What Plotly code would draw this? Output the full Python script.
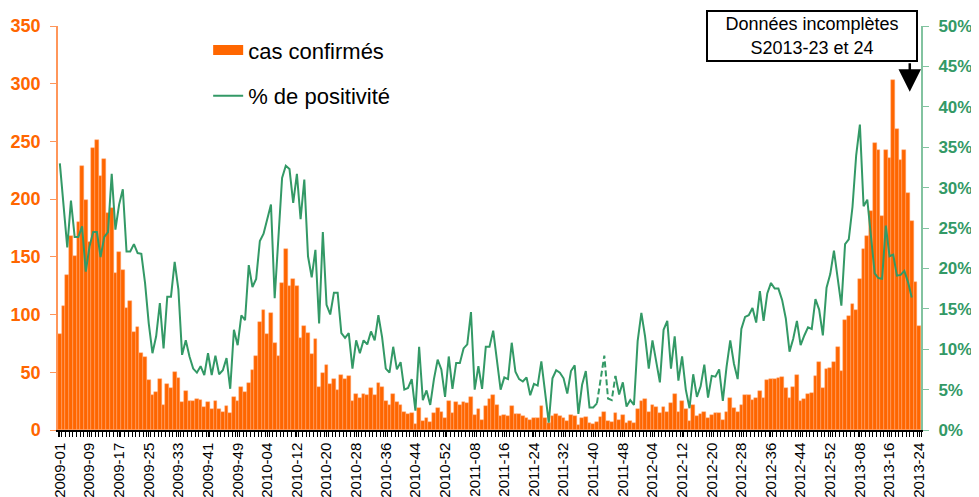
import plotly.graph_objects as go

# ---------------- DATA ----------------
weeks_per_year = {2009: 53, 2010: 52, 2011: 52, 2012: 52, 2013: 24}
week_labels = [f"{y}-{w:02d}" for y, n in weeks_per_year.items() for w in range(1, n + 1)]

cas_confirmes = [
    83, 107, 134, 168, 151, 180, 229, 199, 163, 244, 251, 220, 235, 188, 192, 136, 154, 139, 106, 112,
    85, 89, 67, 63, 43, 30, 33, 44, 22, 40, 36, 50, 45, 24, 34, 25, 25, 27, 26, 20,
    24, 18, 25, 18, 16, 21, 15, 29, 25, 37, 33, 41, 52, 64, 94, 104, 83, 101, 75, 64,
    127, 157, 125, 131, 125, 80, 90, 84, 66, 79, 37, 49, 56, 40, 44, 35, 48, 44, 47, 25,
    31, 28, 31, 30, 36, 30, 41, 37, 25, 22, 31, 24, 22, 16, 14, 15, 5, 19, 8, 10,
    7, 15, 19, 16, 10, 25, 15, 24, 22, 24, 23, 29, 13, 18, 9, 21, 27, 30, 22, 12,
    13, 12, 21, 14, 14, 12, 10, 9, 10, 10, 21, 10, 6, 12, 14, 12, 10, 8, 13, 12,
    4, 10, 11, 6, 5, 7, 11, 16, 8, 7, 15, 9, 13, 6, 8, 6, 18, 25, 27, 16,
    22, 20, 15, 20, 16, 23, 31, 16, 25, 18, 8, 22, 12, 14, 16, 10, 13, 15, 15, 9,
    16, 28, 19, 16, 22, 30, 30, 26, 28, 34, 28, 43, 44, 44, 45, 46, 36, 28, 37, 48,
    25, 27, 31, 32, 47, 59, 36, 53, 54, 59, 72, 51, 95, 99, 109, 104, 131, 157, 168, 190,
    249, 243, 185, 243, 236, 303, 261, 234, 243, 205, 181, 128, 90,
]

pct_positivite = [
    33.0, 27.5, 22.6, 28.4, 23.9, 23.9, 25.2, 19.6, 22.7, 24.5, 24.5, 21.4, 23.9, 24.5, 31.7, 24.8, 27.9, 29.8, 22.1, 22.1,
    23.0, 21.9, 21.8, 18.2, 13.2, 9.5, 11.6, 15.7, 10.1, 16.5, 16.5, 20.8, 17.4, 9.3, 11.1, 9.1, 7.6, 7.1, 7.9, 6.8,
    9.5, 6.8, 9.2, 6.9, 7.4, 8.9, 5.1, 12.4, 10.5, 14.2, 13.6, 20.4, 17.7, 18.7, 23.4, 24.3, 26.0, 27.9, 16.3, 24.0,
    31.2, 32.7, 32.3, 28.1, 31.7, 26.1, 31.0, 21.5, 18.9, 22.3, 13.2, 24.5, 15.5, 14.3, 17.0, 17.0, 12.0, 11.4, 12.0, 7.6,
    11.1, 9.5, 11.1, 10.6, 12.2, 11.1, 14.2, 11.5, 7.6, 7.1, 10.3, 7.5, 8.4, 5.0, 5.2, 6.3, 2.4, 10.3, 3.7, 4.9,
    3.1, 6.3, 8.7, 7.5, 4.1, 9.1, 5.1, 8.3, 8.3, 10.1, 10.6, 14.6, 5.0, 7.9, 5.1, 10.3, 10.3, 12.3, 8.7, 5.0,
    6.5, 6.3, 10.8, 7.2, 6.3, 6.0, 6.5, 4.3, 5.7, 5.5, 8.5, 4.3, 0.9, 6.4, 7.4, 7.1, 6.4, 4.5, 7.3, 8.0,
    2.0, 5.6, 7.3, 2.8, 2.8, 3.3, 6.2, 9.2, 3.9, 3.7, 6.7, 4.4, 5.9, 2.9, 3.7, 3.1, 11.0, 14.5, 11.6, 7.6,
    11.1, 8.5, 5.9, 12.4, 13.5, 7.6, 11.6, 6.1, 9.1, 5.0, 2.7, 6.9, 4.1, 5.4, 8.1, 4.0, 6.7, 6.6, 7.5, 3.6,
    7.8, 11.1, 8.2, 6.3, 12.5, 14.0, 14.2, 15.1, 13.3, 17.2, 13.5, 16.9, 18.2, 17.5, 17.5, 16.1, 13.8, 9.7, 11.3, 13.5,
    10.5, 11.7, 12.7, 12.5, 16.2, 14.9, 11.7, 17.6, 19.3, 22.2, 19.0, 15.4, 23.0, 23.6, 27.6, 34.0, 37.8, 27.7, 28.5, 23.9,
    19.4, 18.8, 18.7, 25.3, 21.5, 21.7, 19.1, 19.2, 19.7, 18.3, 16.4, None, None,
]

# weeks where data are incomplete (drawn dashed)
gap_first, gap_last = 145, 150

# ---------------- FIGURE ----------------
ORANGE = "#FF6600"
GREEN = "#339966"
FONT = "Arial, Liberation Sans, sans-serif"

x_idx = list(range(len(week_labels)))

solid = [v if not (gap_first < i < gap_last) else None for i, v in enumerate(pct_positivite)]
dashed = [v if gap_first <= i <= gap_last else None for i, v in enumerate(pct_positivite)]

fig = go.Figure()
fig.add_trace(go.Bar(
    x=x_idx, y=cas_confirmes, name="cas confirmés", showlegend=False,
    marker=dict(color=ORANGE, line=dict(color="rgba(255,170,120,0.9)", width=0.5)),
))
# legend key for the bars (wide orange swatch, as in the reference)
fig.add_trace(go.Scatter(
    x=[None], y=[None], name="cas confirmés", mode="lines",
    line=dict(color=ORANGE, width=12), legendgroup="a", hoverinfo="skip",
))
fig.add_trace(go.Scatter(
    x=x_idx, y=solid, name="% de positivité", yaxis="y2", mode="lines",
    line=dict(color=GREEN, width=2), connectgaps=False, legendgroup="b",
))
fig.add_trace(go.Scatter(
    x=x_idx, y=dashed, yaxis="y2", mode="lines", showlegend=False,
    line=dict(color=GREEN, width=2, dash="6px,3px"), connectgaps=False,
))

tickvals = [i for i in x_idx if i % 8 == 0]
ticktext = [week_labels[i] for i in tickvals]

# the page body adds an 8px offset; the figure is sized so the plot area lands where the reference has it
fig.update_layout(
    width=971, height=489,
    margin=dict(l=50, r=58, t=18, b=67, autoexpand=False),
    paper_bgcolor="white", plot_bgcolor="white",
    bargap=0,
    font=dict(family=FONT),
    showlegend=True,
    legend=dict(
        x=0.174, y=0.992, xanchor="left", yanchor="top",
        font=dict(size=22, color="black", family=FONT),
        bgcolor="rgba(0,0,0,0)", traceorder="grouped", tracegroupgap=14,
        itemwidth=30,
    ),
    xaxis=dict(
        range=[-0.5, len(week_labels) - 0.5], automargin=False,
        tickmode="array", tickvals=tickvals, ticktext=ticktext,
        tickangle=-90, tickfont=dict(size=15, color="black", family=FONT),
        ticks="outside", ticklen=5, tickcolor="black",
        minor=dict(ticks="outside", ticklen=5, tickcolor="black", tickmode="linear", tick0=-0.5, dtick=1),
        showline=True, linecolor="black", linewidth=1.5,
        showgrid=False, zeroline=False,
    ),
    yaxis=dict(
        range=[0, 350], dtick=50, tick0=0, automargin=False,
        tickfont=dict(size=18, color=ORANGE, family=FONT, weight="bold"),
        ticks="outside", ticklen=6, tickcolor="rgb(255,150,90)", ticklabelstandoff=6,
        showline=True, linecolor="rgb(255,150,90)", linewidth=1.5,
        showgrid=False, zeroline=False,
    ),
    yaxis2=dict(
        range=[0, 50], dtick=5, tick0=0, overlaying="y", side="right", automargin=False,
        ticksuffix="%",
        tickfont=dict(size=17, color=GREEN, family=FONT, weight="bold"),
        ticks="outside", ticklen=6, tickcolor="rgb(130,195,160)", ticklabelstandoff=6,
        showline=True, linecolor="rgb(130,195,160)", linewidth=2,
        showgrid=False, zeroline=False,
    ),
)

fig.add_annotation(
    xref="paper", yref="paper", x=0.874, y=0.975, xanchor="center", yanchor="middle",
    text="Données incomplètes<br>S2013-23 et 24", showarrow=False,
    font=dict(size=18, color="black", family=FONT),
    bordercolor="black", borderwidth=2, borderpad=2, bgcolor="white",
    width=204, height=44,
)
fig.add_annotation(
    xref="paper", yref="paper", x=0.987, y=0.837,
    text="", showarrow=True, ax=0, ay=-30,
    arrowhead=2, arrowwidth=2.5, arrowsize=1.8, arrowcolor="black",
)

fig.write_html("out.html")
